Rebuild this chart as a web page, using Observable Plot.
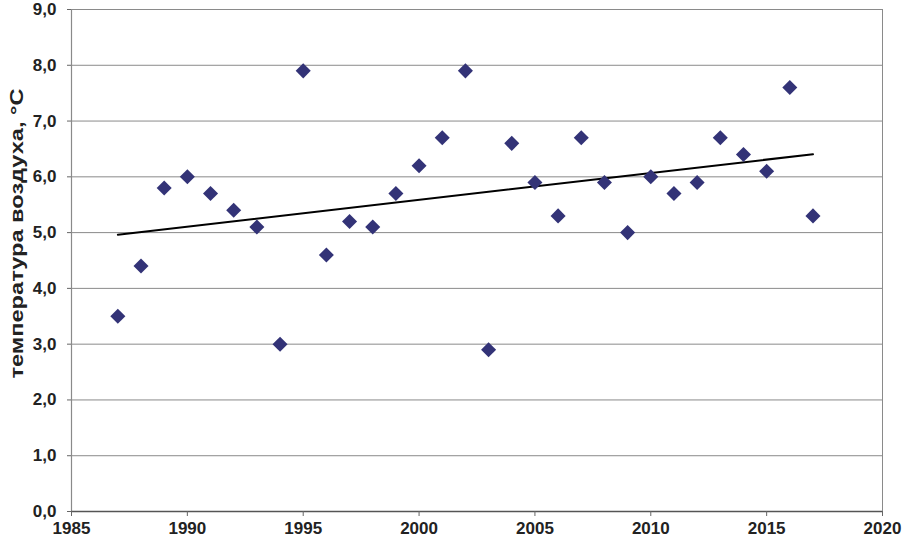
<!DOCTYPE html>
<html>
<head>
<meta charset="utf-8">
<script src="https://cdn.jsdelivr.net/npm/d3@7"></script>
<script src="https://cdn.jsdelivr.net/npm/@observablehq/plot@0.6"></script>
<style>
  html, body { margin: 0; padding: 0; background: #fff; }
  #chart { width: 902px; height: 544px; }
</style>
</head>
<body>
<div id="chart"></div>
<script>
const years = [1987,1988,1989,1990,1991,1992,1993,1994,1995,1996,1997,1998,1999,2000,2001,2002,2003,2004,2005,2006,2007,2008,2009,2010,2011,2012,2013,2014,2015,2016,2017];
const temps = [3.5,4.4,5.8,6.0,5.7,5.4,5.1,3.0,7.9,4.6,5.2,5.1,5.7,6.2,6.7,7.9,2.9,6.6,5.9,5.3,6.7,5.9,5.0,6.0,5.7,5.9,6.7,6.4,6.1,7.6,5.3];
const xTicks = [1985,1990,1995,2000,2005,2010,2015,2020];
const yTicks = [0,1,2,3,4,5,6,7,8,9];
const yLabel = "температура воздуха, °С";

const data = years.map((y, i) => ({year: y, t: temps[i]}));

const chart = Plot.plot({
  width: 902,
  height: 544,
  marginLeft: 71,
  marginRight: 20,
  marginTop: 9,
  marginBottom: 33,
  style: {fontFamily: "Liberation Sans, Arial, sans-serif", fontSize: "17px", fontWeight: "bold", color: "#222", background: "#fff"},
  x: {domain: [1985, 2020]},
  y: {domain: [0, 9]},
  marks: [
    Plot.ruleY(yTicks.filter(d => d > 0), {stroke: "#8a8a8a", strokeWidth: 1, strokeOpacity: 1}),
    Plot.ruleX([2020], {stroke: "#8a8a8a", strokeWidth: 1}),
    Plot.ruleX([1985], {stroke: "#8a8a8a", strokeWidth: 1.2}),
    Plot.ruleY([0], {stroke: "#555", strokeWidth: 1.3}),
    Plot.axisX({ticks: xTicks, tickFormat: d => String(d), tickSize: 5, tickPadding: 5, stroke: "#666", label: null, fontSize: 17, fontWeight: "bold"}),
    Plot.axisY({ticks: yTicks, tickFormat: d => d.toFixed(1).replace(".", ","), tickSize: 4, tickPadding: 11, stroke: "#666", label: null, fontSize: 17, fontWeight: "bold"}),
    Plot.linearRegressionY(data, {x: "year", y: "t", stroke: "#000", strokeWidth: 2, ci: 0}),
    Plot.dot(data, {x: "year", y: "t", symbol: "square", rotate: 45, r: 6, fill: "#333377", stroke: "none"}),
    Plot.text([yLabel], {frameAnchor: "left", textAnchor: "middle", dx: -54, dy: -27, rotate: -90, fontSize: 18, fontWeight: "bold", fill: "#222"})
  ]
});
d3.select(chart).selectAll("text").filter(function() { return this.textContent === yLabel; })
  .attr("textLength", 290).attr("lengthAdjust", "spacingAndGlyphs");
document.getElementById("chart").appendChild(chart);
</script>
</body>
</html>
